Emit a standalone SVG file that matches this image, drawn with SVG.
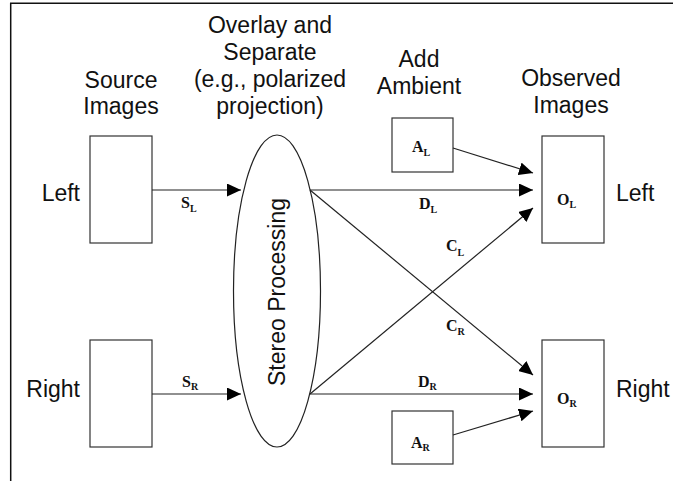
<svg xmlns="http://www.w3.org/2000/svg" width="673" height="481" viewBox="0 0 673 481">
<defs>
<marker id="arr" markerUnits="userSpaceOnUse" markerWidth="14" markerHeight="13" refX="14" refY="6.5" orient="auto">
<path d="M0,0 L14,6.5 L0,13 z" fill="#000"/>
</marker>
<style>
.box{fill:#fff;stroke:#333;stroke-width:1.2}
.cap{font-family:"Liberation Sans",Arial,sans-serif;font-size:23px;fill:#111}
.lbl{font-family:"Liberation Serif","Times New Roman",serif;font-weight:bold;font-size:16px;fill:#111}
.sub{font-size:10px}
.ln{stroke:#222;stroke-width:1.2;fill:none;marker-end:url(#arr)}
</style>
</defs>
<rect width="673" height="481" fill="#fff"/>
<path d="M10.7,481 V3.3 H673" fill="none" stroke="#111" stroke-width="1.5"/>

<g id="captions">
<text class="cap" x="121" y="88" text-anchor="middle">Source</text>
<text class="cap" x="121" y="114" text-anchor="middle">Images</text>
<text class="cap" x="270" y="33" text-anchor="middle">Overlay and</text>
<text class="cap" x="270" y="60" text-anchor="middle">Separate</text>
<text class="cap" x="270" y="87" text-anchor="middle">(e.g., polarized</text>
<text class="cap" x="270" y="114" text-anchor="middle">projection)</text>
<text class="cap" x="419" y="67" text-anchor="middle">Add</text>
<text class="cap" x="419" y="94" text-anchor="middle">Ambient</text>
<text class="cap" x="571" y="86" text-anchor="middle">Observed</text>
<text class="cap" x="571" y="113" text-anchor="middle">Images</text>
<text class="cap" x="80" y="201" text-anchor="end">Left</text>
<text class="cap" x="80" y="397" text-anchor="end">Right</text>
<text class="cap" x="616" y="201">Left</text>
<text class="cap" x="616" y="397">Right</text>
</g>

<g id="source-left"><rect class="box" x="90" y="136" width="62" height="107"/></g>
<g id="source-right"><rect class="box" x="90" y="340" width="62" height="107"/></g>

<g id="stereo">
<ellipse cx="277" cy="291" rx="43.5" ry="156" fill="#fff" stroke="#222" stroke-width="1.2"/>
<text class="cap" transform="translate(285,292) rotate(-90)" text-anchor="middle">Stereo Processing</text>
</g>

<g id="ambient-left"><rect class="box" x="392" y="118" width="61" height="54"/>
<text class="lbl" x="412" y="152">A<tspan class="sub" y="156">L</tspan></text></g>
<g id="ambient-right"><rect class="box" x="392" y="411" width="61" height="53"/>
<text class="lbl" x="411" y="448">A<tspan class="sub" y="451">R</tspan></text></g>

<g id="observed-left"><rect class="box" x="542" y="136" width="62" height="107"/>
<text class="lbl" x="557" y="205">O<tspan class="sub" y="208">L</tspan></text></g>
<g id="observed-right"><rect class="box" x="542" y="340" width="62" height="107"/>
<text class="lbl" x="557" y="404">O<tspan class="sub" y="407">R</tspan></text></g>

<g id="connectors">
<line class="ln" x1="152" y1="190" x2="241" y2="190"/>
<line class="ln" x1="152" y1="394" x2="241" y2="394"/>
<line class="ln" x1="310" y1="190" x2="533" y2="190"/>
<line class="ln" x1="310" y1="394" x2="533" y2="394"/>
<line class="ln" x1="310" y1="394" x2="533" y2="208"/>
<line class="ln" x1="310" y1="190" x2="533" y2="375"/>
<line class="ln" x1="453" y1="148" x2="533" y2="173"/>
<line class="ln" x1="453" y1="435" x2="533" y2="411"/>
<text class="lbl" x="181" y="208">S<tspan class="sub" y="212">L</tspan></text>
<text class="lbl" x="182" y="387">S<tspan class="sub" y="390">R</tspan></text>
<text class="lbl" x="419" y="209">D<tspan class="sub" y="213">L</tspan></text>
<text class="lbl" x="418" y="387">D<tspan class="sub" y="390">R</tspan></text>
<text class="lbl" x="446" y="251">C<tspan class="sub" y="256">L</tspan></text>
<text class="lbl" x="446" y="331">C<tspan class="sub" y="335">R</tspan></text>
</g>
</svg>
